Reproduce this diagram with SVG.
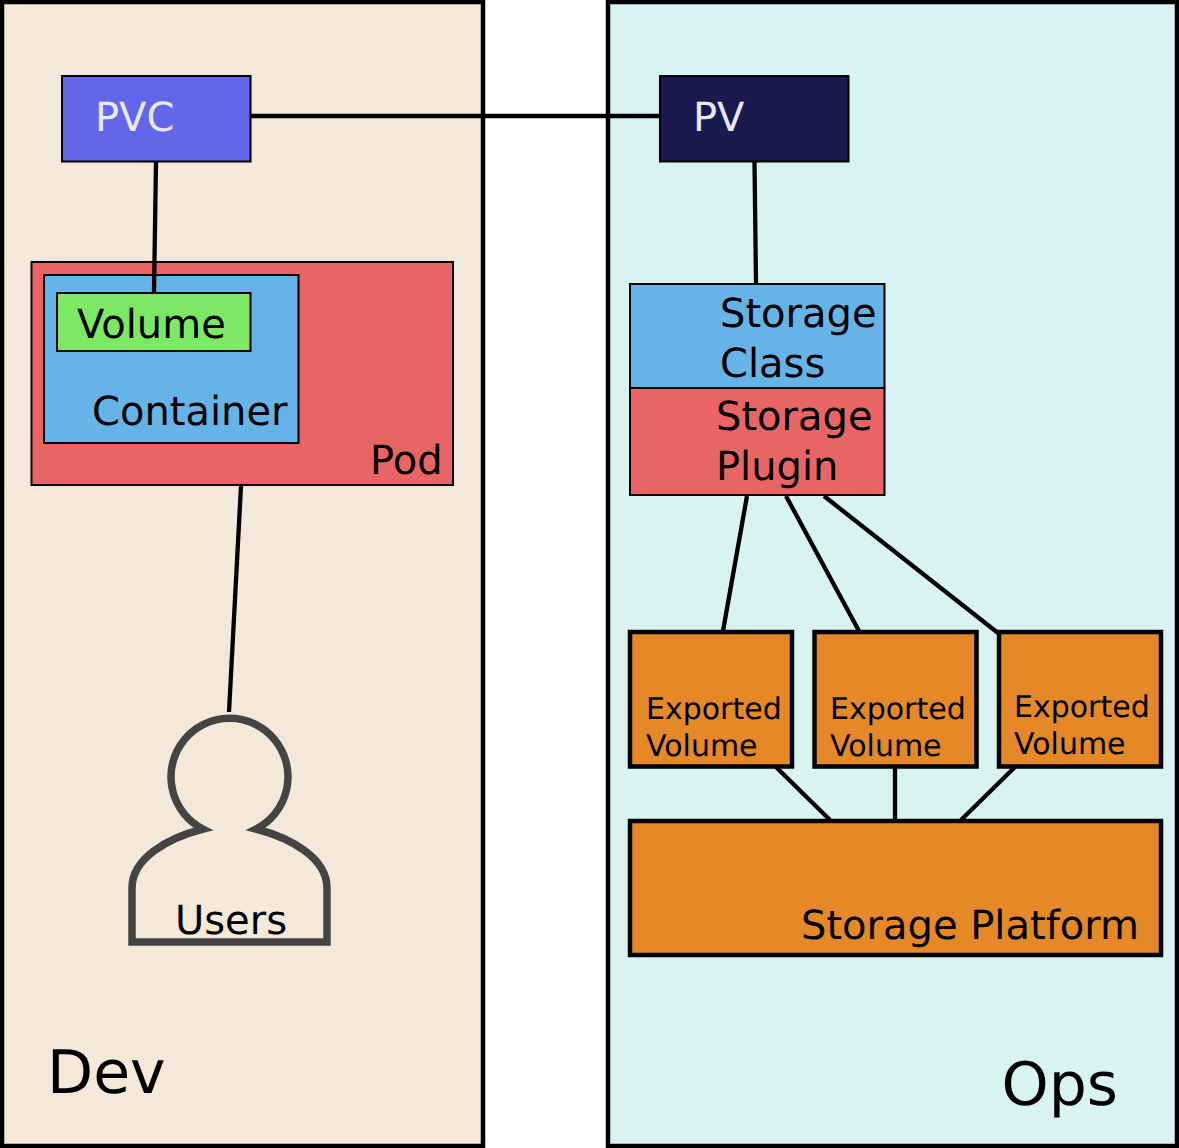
<svg xmlns="http://www.w3.org/2000/svg" width="1179" height="1148" viewBox="0 0 1179 1148">
<style>
text{font-family:"DejaVu Sans",sans-serif;fill:#000;text-rendering:geometricPrecision}
.lt{fill:#e8e8f8}
.thin{stroke:#000;stroke-width:2}
.ev{fill:#e58828;stroke:#000;stroke-width:4.500}
.c{stroke:#000;stroke-width:4.300;fill:none}
</style>
<rect width="1179" height="1148" fill="#fff"/>
<g id="dev"><rect x="2" y="2" width="481" height="1144" fill="#f3e8d9" stroke="#000" stroke-width="4.500"/><text x="47" y="1093" font-size="60">Dev</text></g>
<g id="ops"><rect x="608" y="2" width="569" height="1144" fill="#d9f3f3" stroke="#000" stroke-width="4.500"/><text x="1001.500" y="1105" font-size="60">Ops</text></g>
<g id="pvc"><rect x="62" y="76" width="188.500" height="85.500" fill="#6366e8" class="thin"/><text x="95" y="131" font-size="40" class="lt">PVC</text></g>
<g id="pv"><rect x="660" y="76" width="188.500" height="85.500" fill="#1a1a4e" class="thin"/><text x="693" y="131" font-size="40" class="lt">PV</text></g>
<g id="pod"><rect x="31.500" y="262" width="421.500" height="223" fill="#e96565" class="thin"/><text x="370" y="474" font-size="40">Pod</text></g>
<g id="container"><rect x="44" y="275" width="254.500" height="168" fill="#66b3e8" class="thin"/><text x="92" y="425" font-size="40">Container</text></g>
<g id="volume"><rect x="57" y="293" width="193.500" height="58" fill="#7de864" class="thin"/><text x="77" y="338" font-size="40">Volume</text></g>
<g id="storage-class"><rect x="630" y="284" width="254.500" height="104" fill="#66b3e8" class="thin"/><text font-size="40"><tspan x="720" y="327">Storage</tspan><tspan x="720" y="377">Class</tspan></text></g>
<g id="storage-plugin"><rect x="630" y="388" width="254.500" height="107" fill="#e96565" class="thin"/><text font-size="40"><tspan x="716" y="430">Storage</tspan><tspan x="716" y="480">Plugin</tspan></text></g>
<g id="ev1"><rect x="630" y="632" width="162" height="134.500" class="ev"/><text font-size="30"><tspan x="646" y="719">Exported</tspan><tspan x="646" y="756">Volume</tspan></text></g>
<g id="ev2"><rect x="814.500" y="632" width="162" height="134.500" class="ev"/><text font-size="30"><tspan x="830" y="719">Exported</tspan><tspan x="830" y="756">Volume</tspan></text></g>
<g id="ev3"><rect x="999" y="632" width="162" height="134.500" class="ev"/><text font-size="30"><tspan x="1014" y="717">Exported</tspan><tspan x="1014" y="754">Volume</tspan></text></g>
<g id="platform"><rect x="630" y="821" width="531" height="134" class="ev"/><text x="801" y="939" font-size="40">Storage Platform</text></g>
<g id="users"><path d="M132 942V888C132 858 168 838 203 829A58.500 58.500 0 1 1 256 829C291 838 327 858 327 888V942Z" fill="none" stroke="#444" stroke-width="7.500"/><text x="175" y="934" font-size="40">Users</text></g>
<g id="connectors">
<path class="c" d="M251 116H660"/><path class="c" d="M156 162L154 292"/><path class="c" d="M754.500 162L756 283"/><path class="c" d="M241 486L229 712"/>
<path class="c" d="M747 496L723 631"/><path class="c" d="M786 496L859 631"/><path class="c" d="M824 496L998 633"/>
<path class="c" d="M776 767L830 820"/><path class="c" d="M895 768V820"/><path class="c" d="M1015 767L961 820"/>
</g>
</svg>
